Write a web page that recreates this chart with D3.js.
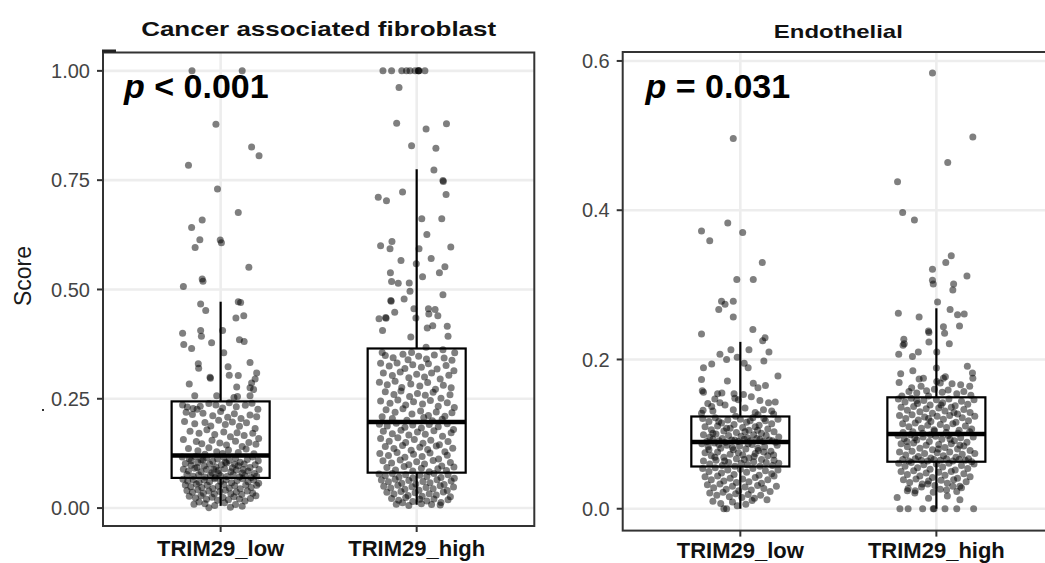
<!DOCTYPE html>
<html><head><meta charset="utf-8">
<script src="https://cdn.jsdelivr.net/npm/d3@7"></script>
<style>body{margin:0;background:#fff}svg{display:block}text{font-family:"Liberation Sans",Arial,Helvetica,sans-serif}</style>
</head><body><svg id="c" width="1045" height="563"></svg>
<script>
const categories = ["TRIM29_low", "TRIM29_high"];
const panelTitles = ["Cancer associated fibroblast", "Endothelial"];
const pValueTexts = [" < 0.001", " = 0.031"];
const yAxisTitle = "Score";
const cafTicks = [0, 0.25, 0.5, 0.75, 1];
const cafTickLabels = ["0.00", "0.25", "0.50", "0.75", "1.00"];
const endoTicks = [0, 0.2, 0.4, 0.6];
const endoTickLabels = ["0.0", "0.2", "0.4", "0.6"];
// box stats: [lower whisker, Q1, median, Q3, upper whisker]
const cafLowBox = [0.005, 0.069, 0.120, 0.244, 0.472];
const cafHighBox = [0.0075, 0.081, 0.197, 0.365, 0.775];
const endoLowBox = [0, 0.0566, 0.0894, 0.1236, 0.2236];
const endoHighBox = [0, 0.063, 0.100, 0.1493, 0.2686];
// points: [jitter (% of jitter width, -100..100), score]
const cafLowPoints = [
[-73,1.0],[55,1.0],[-12,.878],[79,.826],[98,.806],[-82,.784],[-8,.730],[45,.676],[-47,.659],[-74,.642],[-53,.614],[-1,.613],[2,.607],[-65,.596],[72,.551],[-47,.524],[-45,.519],[-95,.507],
[-51,.467],[-38,.452],[45,.472],[51,.470],[39,.435],[59,.44],[-97,.40],[-51,.406],[-49,.393],[-94,.374],[-74,.365],[-23,.378],[5,.406],[48,.385],[60,.381],[8,.355],[-57,.33],[-56,.32],[75,.333],[19,.323],[-27,.299],[-26,.297],[22,.304],[45,.303],[92,.309],[-80,.284],[41,.277],[79,.286],[84,.271],[75,.275],[88,.295],[-66,.257],[-10,.257],[34,.253],[43,.255],[75,.257],
[-97,.236],[-85,.231],[-70,.228],[-60,.226],[-52,.233],[-30,.239],[-12,.236],[5,.229],[22,.241],[40,.232],[63,.235],[80,.240],[95,.226],
[-88,.219],[-72,.214],[-45,.217],[-20,.211],[0,.221],[18,.208],[35,.216],[52,.205],[75,.213],[92,.209],
[-92,.198],[-66,.193],[-40,.196],[-25,.188],[-5,.201],[12,.191],[30,.197],[48,.187],[66,.195],[88,.182],
[-78,.176],[-55,.171],[-35,.179],[-15,.168],[8,.174],[25,.163],[42,.172],[60,.166],[82,.171],[97,.159],
[-95,.157],[-62,.152],[-48,.147],[-22,.155],[-2,.149],[15,.144],[38,.153],[55,.141],[72,.150],[90,.146],
[-82,.136],[-58,.131],[-30,.138],[-10,.129],[20,.133],[45,.127],[65,.135],[85,.124],[-40,.123],[5,.125],
[-98,.117],[-80,.113],[-65,.118],[-50,.110],[-35,.115],[-20,.107],[-8,.112],[8,.116],[22,.109],[38,.114],[50,.105],[68,.111],[82,.117],[96,.108],
[-90,.102],[-75,.098],[-58,.104],[-42,.096],[-28,.101],[-12,.094],[2,.099],[15,.103],[30,.092],[45,.097],[60,.101],[75,.093],[88,.099],
[-95,.089],[-82,.085],[-66,.091],[-50,.083],[-36,.088],[-22,.081],[-6,.086],[10,.090],[26,.083],[40,.087],[55,.080],[70,.085],[86,.079],[98,.088],
[-86,.077],[-70,.073],[-56,.076],[-40,.071],[-26,.075],[-14,.070],[0,.074],[16,.072],[32,.077],[48,.071],[62,.074],[78,.070],[92,.073],
[-60,.093],[-18,.089],[36,.100],[-45,.110],[58,.088],[-5,.079],[12,.105],[-75,.108],
[-96,.066],[-84,.062],[-70,.065],[-55,.059],[-42,.064],[-28,.060],[-15,.067],[0,.061],[14,.065],[28,.058],[42,.063],[56,.067],[70,.060],[84,.064],[97,.057],
[-90,.053],[-76,.049],[-62,.055],[-48,.047],[-34,.052],[-20,.045],[-6,.050],[8,.054],[22,.046],[36,.051],[50,.044],[64,.053],[78,.047],[92,.052],
[-86,.040],[-72,.036],[-58,.042],[-44,.034],[-30,.039],[-16,.032],[-2,.038],[12,.041],[26,.033],[40,.037],[54,.031],[68,.039],[82,.034],
[-80,.027],[-64,.023],[-50,.028],[-36,.020],[-22,.025],[-8,.018],[6,.024],[20,.019],[34,.026],[48,.021],[62,.016],[76,.022],[90,.028],
[-40,.010],[-15,.006],[10,.012],[-55,.014],[38,.008],[-68,.009],[55,.004],[-30,.001],[25,.002]
];
const cafHighPoints = [
[-86,1.0],[-64,1.0],[-38,1.0],[-26,1.0],[-17,1.0],[-4,1.0],[4,1.0],[5,1.0],[6,1.0],[21,1.0],
[-45,.962],[-51,.880],[24,.867],[76,.879],[-13,.829],[49,.823],[44,.773],[67,.749],[68,.747],[75,.717],[-36,.723],[-98,.711],[-77,.703],[13,.662],[64,.662],[26,.626],[-63,.61],[-92,.60],[-68,.593],[6,.593],[87,.597],[-40,.566],[37,.571],[-1,.559],[72,.552],[58,.538],[-67,.538],[-64,.518],[-47,.514],[-19,.515],[15,.529],[-17,.496],[67,.488],[-32,.478],[-66,.475],[-65,.473],[-7,.456],[-56,.448],[30,.456],[47,.454],[31,.444],[54,.44],[-96,.433],[-79,.436],[-78,.434],[-2,.435],[-87,.406],[27,.412],[41,.417],[78,.416],[-15,.391],[80,.393],[24,.368],
[-88,.356],[-13,.356],[67,.362],[97,.355],[-80,.349],[-60,.344],[-35,.352],[-22,.339],[5,.347],[25,.341],[45,.350],[70,.343],[90,.338],
[-92,.331],[-70,.325],[-50,.332],[-30,.319],[-10,.328],[12,.322],[30,.330],[52,.318],[75,.326],[95,.314],
[-85,.309],[-62,.303],[-42,.311],[-20,.298],[0,.306],[20,.300],[38,.309],[60,.295],[82,.304],
[-95,.288],[-75,.282],[-55,.290],[-38,.276],[-15,.284],[8,.279],[28,.287],[48,.272],[68,.281],[88,.275],
[-80,.266],[-58,.260],[-40,.268],[-18,.255],[2,.262],[22,.258],[42,.265],[62,.251],[85,.259],
[-92,.245],[-68,.240],[-48,.247],[-28,.236],[-8,.243],[15,.238],[35,.246],[55,.233],[78,.241],[96,.230],
[-78,.225],[-55,.219],[-35,.227],[-12,.215],[10,.222],[30,.212],[50,.220],[72,.210],[90,.218],
[-62,.205],[-25,.201],[18,.207],[40,.200],[-88,.209],[65,.203],
[-95,.192],[-75,.188],[-52,.194],[-30,.185],[-10,.190],[12,.183],[32,.191],[55,.186],[78,.193],[94,.180],
[-85,.176],[-62,.170],[-40,.178],[-20,.167],[2,.174],[22,.169],[44,.177],[66,.164],[88,.172],
[-92,.159],[-70,.153],[-48,.161],[-28,.150],[-6,.157],[16,.148],[36,.155],[58,.145],[80,.152],
[-80,.141],[-58,.136],[-36,.143],[-14,.132],[8,.139],[28,.134],[50,.142],[72,.129],[92,.137],
[-94,.125],[-72,.120],[-50,.127],[-30,.116],[-8,.123],[14,.118],[34,.126],[56,.112],[78,.121],
[-86,.108],[-64,.103],[-42,.110],[-20,.099],[0,.106],[20,.101],[42,.109],[64,.096],[86,.104],
[-76,.093],[-54,.087],[-32,.095],[-10,.085],[12,.091],[32,.083],[54,.090],[76,.086],[95,.094],
[-96,.078],[-80,.074],[-62,.079],[-45,.071],[-28,.076],[-10,.069],[8,.075],[26,.072],[44,.079],[62,.070],[80,.076],[96,.068],
[-90,.064],[-72,.060],[-55,.066],[-38,.057],[-20,.063],[-2,.055],[16,.061],[34,.058],[52,.065],[70,.054],[88,.062],
[-84,.050],[-66,.046],[-48,.052],[-30,.043],[-12,.049],[6,.041],[24,.047],[42,.044],[60,.051],[78,.040],[94,.048],
[-76,.036],[-58,.032],[-40,.038],[-22,.029],[-4,.035],[14,.027],[32,.033],[50,.030],[68,.037],[86,.026],
[-64,.022],[-46,.018],[-28,.024],[-10,.015],[8,.020],[26,.016],[44,.021],[62,.013],[80,.019],
[-52,.009],[-20,.006],[12,.010],[38,.008],[-36,.012],[60,.007]
];
const endoLowPoints = [
[-18,.496],[-99,.372],[-78,.359],[-32,.383],[6,.370],[56,.330],[-9,.307],[33,.307],[-48,.278],[-39,.274],[-18,.278],[-55,.267],[-18,.257],[-99,.234],[32,.240],[63,.229],[57,.225],[-52,.207],[-24,.213],[22,.213],[73,.21],[-94,.189],[-73,.194],[-35,.200],[-8,.203],[10,.195],[20,.189],[60,.198],[96,.178],[-99,.173],[-33,.171],[33,.168],[45,.162],[64,.165],[-97,.158],[-94,.156],[-58,.154],[-47,.155],[-16,.154],[8,.153],
[-83,.141],[-73,.137],[-52,.142],[-39,.139],[-14,.148],[50,.145],[72,.142],[89,.143],[-99,.128],[-95,.132],[-70,.131],[-18,.1326],[12,.135],[38,.129],[59,.1326],[80,.131],[-5,.146],[28,.150],[-65,.147],[85,.127],[45,.126],
[-96,.121],[-80,.117],[-64,.122],[-48,.115],[-32,.119],[-16,.113],[0,.120],[16,.116],[32,.122],[48,.112],[64,.118],[80,.114],[96,.120],
[-90,.110],[-74,.106],[-58,.111],[-42,.104],[-26,.108],[-10,.102],[6,.109],[22,.105],[38,.110],[54,.101],[70,.107],[86,.103],
[-94,.099],[-78,.096],[-62,.100],[-46,.094],[-30,.098],[-14,.092],[2,.097],[18,.095],[34,.099],[50,.093],[66,.098],[82,.091],[98,.096],
[-86,.090],[-70,.093],[-54,.091],[-38,.089],[-22,.092],[-6,.090],[10,.093],[26,.091],[42,.094],[58,.090],[74,.092],[90,.089],
[-55,.117],[-12,.124],[25,.118],[60,.121],[-35,.108],[44,.105],[-70,.101],[12,.103],
[-98,.087],[-82,.083],[-66,.088],[-50,.081],[-34,.085],[-18,.079],[-2,.084],[14,.080],[30,.086],[46,.078],[62,.083],[78,.077],[94,.085],
[-90,.075],[-74,.071],[-58,.076],[-42,.069],[-26,.073],[-10,.067],[6,.072],[22,.068],[38,.074],[54,.066],[70,.071],[86,.065],
[-94,.064],[-78,.060],[-62,.065],[-46,.058],[-30,.062],[-14,.057],[2,.061],[18,.059],[34,.063],[50,.057],[66,.062],[82,.058],[98,.061],
[-55,.086],[-20,.082],[20,.087],[45,.081],[-80,.079],[-5,.075],[60,.076],[-40,.064],[10,.066],[35,.070],[-65,.069],[85,.072],
[-96,.054],[-80,.050],[-64,.055],[-48,.048],[-32,.052],[-16,.046],[0,.053],[16,.049],[32,.054],[48,.045],[64,.051],[80,.047],[96,.052],
[-90,.043],[-74,.039],[-58,.044],[-42,.037],[-26,.041],[-10,.035],[6,.040],[22,.036],[38,.042],[54,.034],[70,.039],[86,.044],
[-84,.032],[-68,.028],[-52,.033],[-36,.026],[-20,.030],[-4,.024],[12,.029],[28,.025],[44,.031],[60,.027],[76,.023],[92,.030],
[-78,.021],[-60,.018],[-44,.022],[-28,.016],[-12,.020],[4,.015],[20,.019],[36,.014],[52,.018],[68,.012],
[-70,.010],[-50,.007],[-20,.009],[14,.006],[30,.011],[-42,0],[-35,0],[-8,.004]
];
const endoHighPoints = [
[-10,.584],[93,.498],[29,.464],[-99,.438],[-86,.397],[-56,.387],[38,.339],[24,.330],[-10,.321],[78,.312],[-10,.306],[-8,.301],[44,.301],[42,.293],[3,.277],[-97,.262],[-44,.257],[35,.267],[54,.260],[71,.261],[-20,.238],[-19,.236],[18,.244],[21,.235],[59,.245],[-83,.227],[-85,.219],[-82,.221],[-96,.207],[-61,.204],[-46,.210],[-19,.2235],[1,.210],[33,.221],[79,.191],[92,.182],[93,.175],[0,.1885],[-91,.181],[-60,.185],[-44,.174],[-33,.175],[-95,.169],[-63,.162],[-39,.164],[1,.1705],[10,.1685],[18,.175],[23,.177],[40,.1675],[-70,.157],[-50,.155],[-25,.158],[-5,.160],[15,.156],[30,.159],[52,.154],[70,.157],[88,.152],[-88,.151],[-20,.151],[62,.166],[85,.164],
[-97,.147],[-80,.143],[-64,.148],[-48,.141],[-32,.145],[-16,.139],[0,.146],[16,.142],[32,.147],[48,.138],[64,.144],[80,.140],[96,.146],
[-90,.136],[-74,.132],[-58,.137],[-42,.130],[-26,.134],[-10,.128],[6,.135],[22,.131],[38,.136],[54,.127],[70,.133],[86,.129],
[-94,.125],[-78,.121],[-62,.126],[-46,.119],[-30,.123],[-14,.117],[2,.124],[18,.120],[34,.125],[50,.116],[66,.122],[82,.118],[98,.124],
[-86,.114],[-70,.110],[-54,.115],[-38,.108],[-22,.112],[-6,.106],[10,.113],[26,.109],[42,.114],[58,.105],[74,.111],[90,.107],
[-60,.103],[-35,.101],[-5,.104],[25,.102],[55,.101],[85,.103],[-85,.102],[12,.139],[-20,.121],[45,.129],[-50,.145],
[-98,.098],[-82,.094],[-66,.099],[-50,.092],[-34,.096],[-18,.090],[-2,.097],[14,.093],[30,.098],[46,.091],[62,.095],[78,.089],[94,.096],
[-90,.087],[-74,.083],[-58,.088],[-42,.081],[-26,.085],[-10,.079],[6,.086],[22,.082],[38,.087],[54,.080],[70,.084],[86,.078],
[-94,.076],[-78,.072],[-62,.077],[-46,.070],[-30,.074],[-14,.068],[2,.075],[18,.071],[34,.076],[50,.069],[66,.073],[82,.067],[98,.074],
[-86,.066],[-70,.064],[-54,.067],[-38,.065],[-22,.064],[-6,.066],[10,.065],[26,.067],[42,.064],[58,.066],[74,.065],[90,.063],
[-55,.095],[-15,.099],[35,.093],[-75,.090],[60,.085],[5,.080],
[-96,.061],[-80,.057],[-64,.062],[-48,.055],[-32,.059],[-16,.053],[0,.060],[16,.056],[32,.061],[48,.052],[64,.058],[80,.054],[96,.060],
[-90,.050],[-74,.046],[-58,.051],[-42,.044],[-26,.048],[-10,.042],[6,.049],[22,.045],[38,.050],[54,.041],[70,.047],[86,.043],
[-84,.039],[-68,.035],[-52,.040],[-36,.033],[-20,.037],[-4,.031],[12,.038],[28,.034],[44,.039],[60,.030],[76,.036],
[-72,.027],[-54,.024],[-38,.029],[-22,.033],[-8,.022],[10,.026],[26,.025],[42,.030],[52,.023],[64,.028],
[-100,.015],[-74,.024],[-55,.021],[-20,.014],[28,.017],[60,.012],
[-93,0],[-72,0],[-35,0],[-8,0],[-6,0],[22,0],[52,0],[95,0]
];

const svg = d3.select("#c");

const panels = [
  {title: panelTitles[0], titleSize: 21, titleLen: 355, titleY: 35.5, pText: pValueTexts[0],
   x0: 103, x1: 534.3, y0: 52.5, y1: 526, domain: [-0.041, 1.042],
   ticks: cafTicks, tickLabels: cafTickLabels, boxes: [cafLowBox, cafHighBox],
   points: [cafLowPoints, cafHighPoints], xLabY: 556, pX: 124, yTitle: true},
  {title: panelTitles[1], titleSize: 18.5, titleLen: 129, titleY: 37.5, pText: pValueTexts[1],
   x0: 622.7, x1: 1054, y0: 52, y1: 530.6, domain: [-0.0293, 0.612],
   ticks: endoTicks, tickLabels: endoTickLabels, boxes: [endoLowBox, endoHighBox],
   points: [endoLowPoints, endoHighPoints], xLabY: 557.5, pX: 645.5, yTitle: false}
];

panels.forEach(p => {
  const x = d3.scalePoint().domain(categories).range([p.x0, p.x1]).padding(0.6);
  const y = d3.scaleLinear().domain(p.domain).range([p.y1, p.y0]);
  const step = x.step();
  const g = svg.append("g");

  // grid
  g.selectAll(".gy").data(p.ticks).enter().append("line")
    .attr("x1", p.x0).attr("x2", p.x1).attr("y1", d => y(d)).attr("y2", d => y(d))
    .attr("stroke", "#ededed").attr("stroke-width", 2.6);
  g.selectAll(".gx").data(categories).enter().append("line")
    .attr("x1", d => x(d)).attr("x2", d => x(d)).attr("y1", p.y0).attr("y2", p.y1)
    .attr("stroke", "#ededed").attr("stroke-width", 2.6);

  // boxes
  const bw = step * 0.5;
  categories.forEach((c, i) => {
    const b = p.boxes[i], cx = x(c);
    g.append("line").attr("x1", cx).attr("x2", cx).attr("y1", y(b[3])).attr("y2", y(b[4]))
      .attr("stroke", "#000").attr("stroke-width", 2.2);
    g.append("line").attr("x1", cx).attr("x2", cx).attr("y1", y(b[0])).attr("y2", y(b[1]))
      .attr("stroke", "#000").attr("stroke-width", 2.2);
    g.append("rect").attr("x", cx - bw / 2).attr("width", bw)
      .attr("y", y(b[3])).attr("height", y(b[1]) - y(b[3]))
      .attr("fill", "#fff").attr("stroke", "#000").attr("stroke-width", 2.2);
    g.append("line").attr("x1", cx - bw / 2).attr("x2", cx + bw / 2).attr("y1", y(b[2])).attr("y2", y(b[2]))
      .attr("stroke", "#000").attr("stroke-width", 4.5);
  });

  // points
  categories.forEach((c, i) => {
    g.append("g").selectAll("circle").data(p.points[i]).enter().append("circle")
      .attr("cx", d => x(c) + d[0] / 100 * 0.2 * step)
      .attr("cy", d => y(d[1]))
      .attr("r", 3.5).attr("fill", "#000").attr("fill-opacity", 0.5);
  });

  // border
  g.append("rect").attr("x", p.x0).attr("y", p.y0).attr("width", p.x1 - p.x0).attr("height", p.y1 - p.y0)
    .attr("fill", "none").attr("stroke", "#333").attr("stroke-width", 2);

  // y axis
  const ya = g.append("g");
  ya.selectAll("line").data(p.ticks).enter().append("line")
    .attr("x1", p.x0 - 6).attr("x2", p.x0).attr("y1", d => y(d)).attr("y2", d => y(d))
    .attr("stroke", "#333").attr("stroke-width", 2);
  ya.selectAll("text").data(p.ticks).enter().append("text")
    .attr("x", p.x0 - 13).attr("y", d => y(d)).attr("dy", "0.36em")
    .attr("text-anchor", "end").attr("font-size", 20).attr("fill", "#444")
    .text((d, i) => p.tickLabels[i]);

  // x axis
  const xa = g.append("g");
  xa.selectAll("line").data(categories).enter().append("line")
    .attr("x1", d => x(d)).attr("x2", d => x(d)).attr("y1", p.y1).attr("y2", p.y1 + 6)
    .attr("stroke", "#333").attr("stroke-width", 2);
  xa.selectAll("text").data(categories).enter().append("text")
    .attr("x", d => x(d)).attr("y", p.xLabY).attr("text-anchor", "middle")
    .attr("font-size", 22).attr("font-weight", "bold").attr("fill", "#111")
    .text(d => d);

  // title
  g.append("text").attr("x", (p.x0 + p.x1) / 2).attr("y", p.titleY).attr("text-anchor", "middle")
    .attr("font-size", p.titleSize).attr("font-weight", "bold").attr("fill", "#111")
    .attr("textLength", p.titleLen).attr("lengthAdjust", "spacingAndGlyphs")
    .text(p.title);

  // p-value
  const pt = g.append("text").attr("x", p.pX).attr("y", 98).attr("font-size", 34)
    .attr("font-weight", "bold").attr("fill", "#000");
  pt.append("tspan").attr("font-style", "italic").text("p");
  pt.append("tspan").text(p.pText);

  if (p.yTitle) {
    g.append("text").attr("transform", `translate(31,276) rotate(-90)`)
      .attr("text-anchor", "middle").attr("font-size", 23).attr("fill", "#1a1a1a")
      .text(yAxisTitle);
    // small artefacts visible in the source image
    g.append("rect").attr("x", p.x0 - 1).attr("y", p.y0 - 3).attr("width", 14).attr("height", 3).attr("fill", "#222");
    g.append("rect").attr("x", 42).attr("y", 409).attr("width", 2).attr("height", 2).attr("fill", "#333");
  }
});
</script></body></html>
